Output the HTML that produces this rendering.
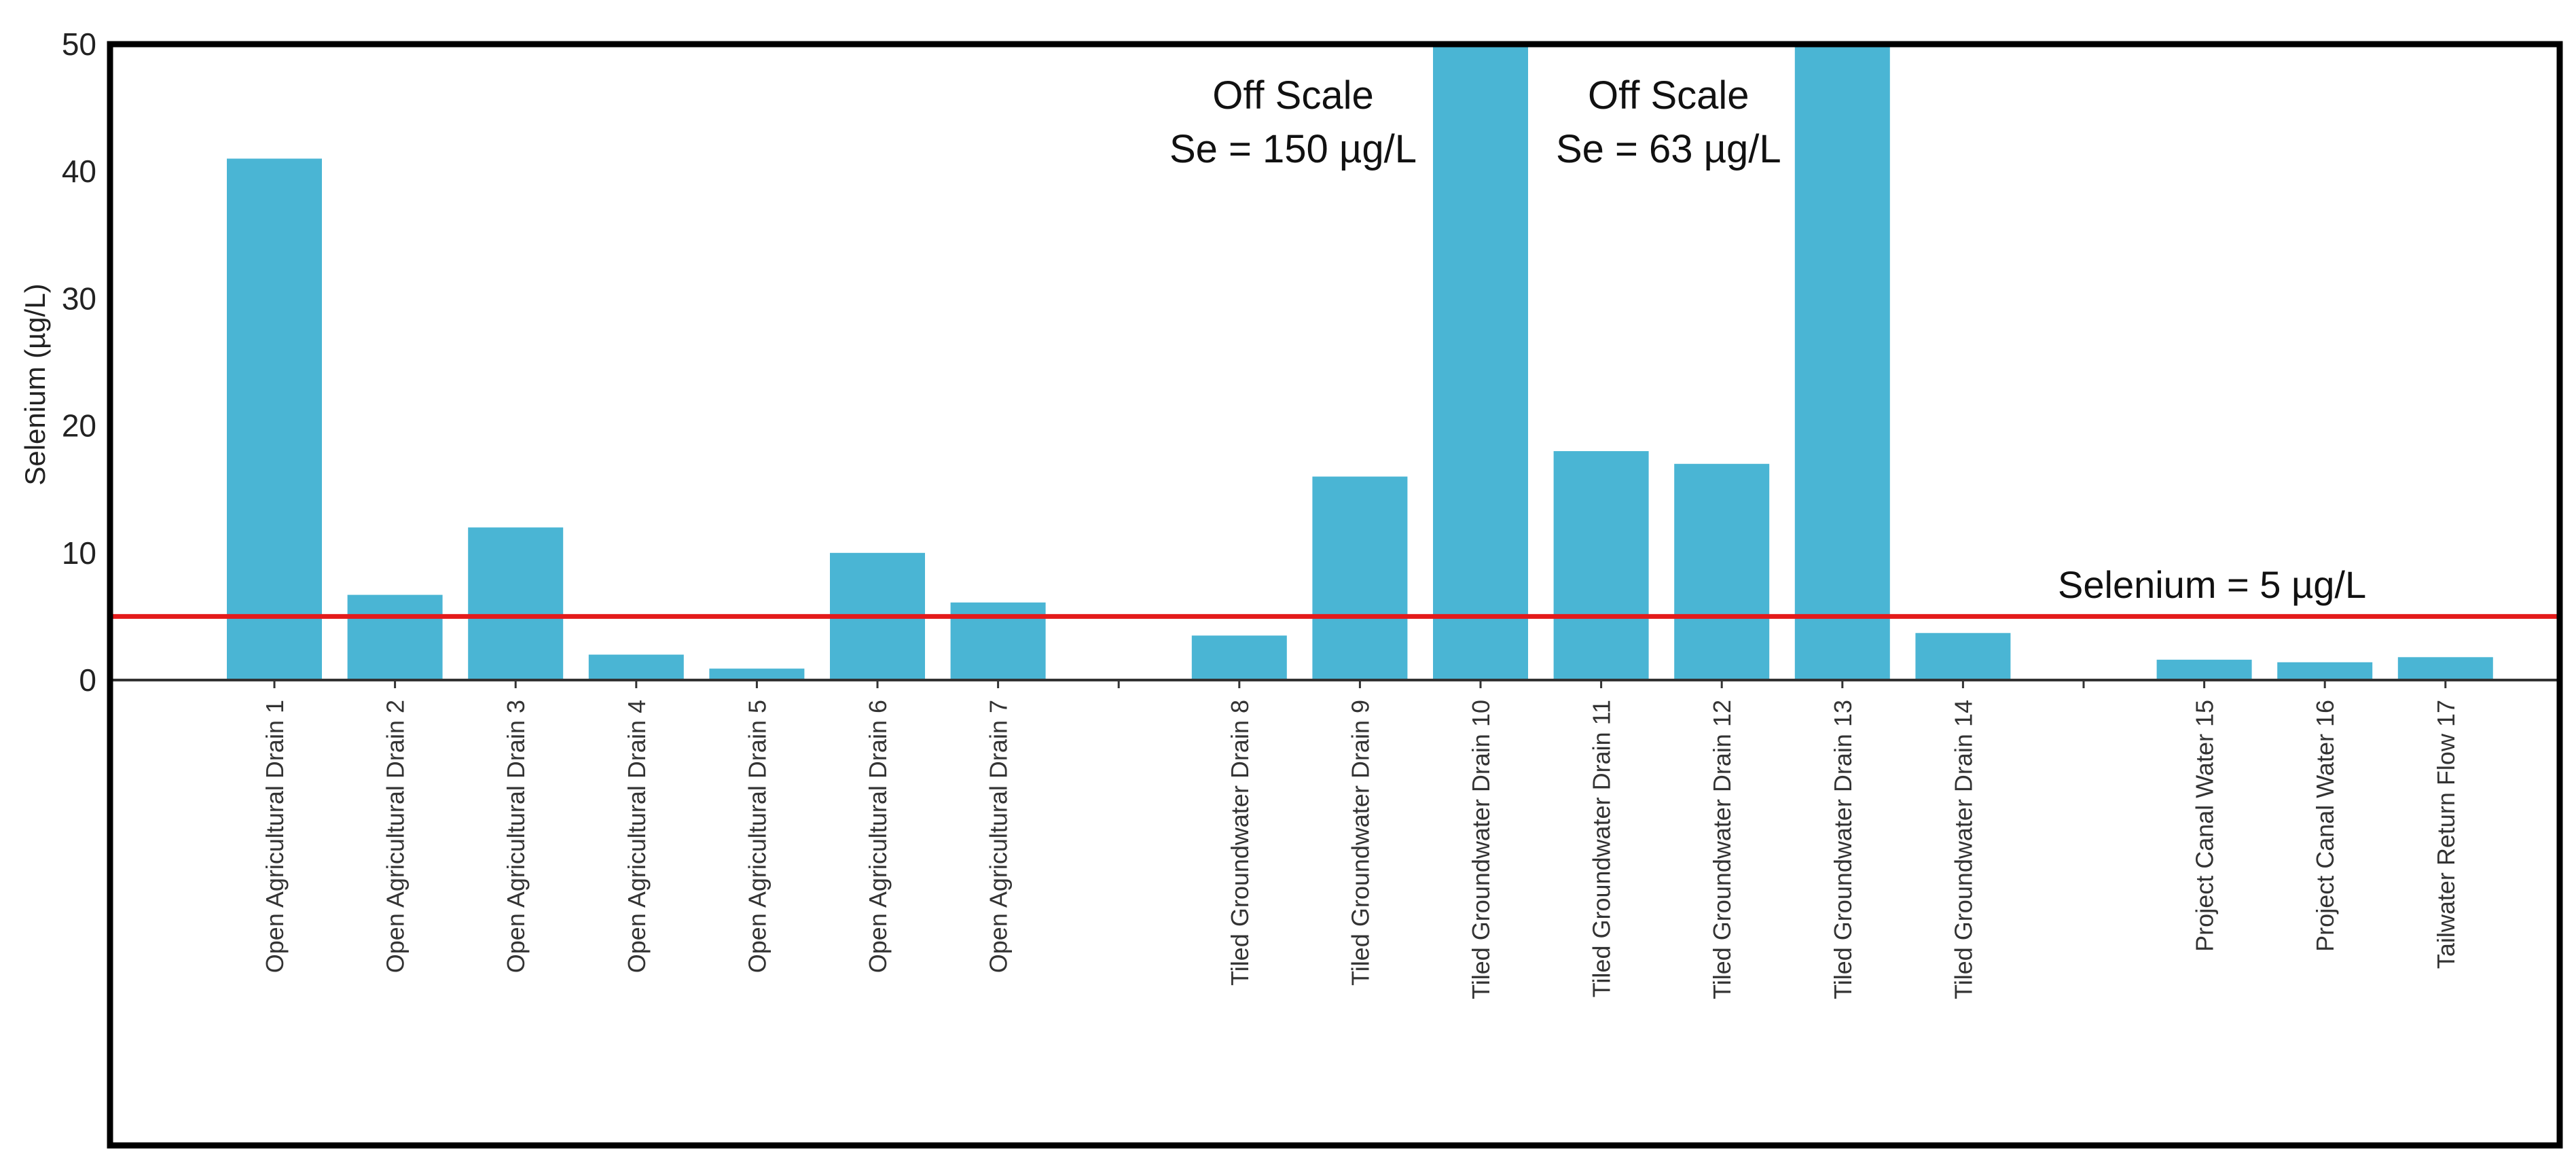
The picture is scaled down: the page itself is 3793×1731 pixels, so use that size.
<!DOCTYPE html>
<html><head><meta charset="utf-8"><style>
html,body{margin:0;padding:0;background:#fff;}
svg{display:block;font-family:"Liberation Sans",sans-serif;}
</style></head><body>
<svg id="chart" width="3793" height="1731" viewBox="0 0 3793 1731">
<g id="bars"></g>
<g id="axes"></g>
</svg>
<script>
const categories = ["Open Agricultural Drain 1","Open Agricultural Drain 2","Open Agricultural Drain 3","Open Agricultural Drain 4","Open Agricultural Drain 5","Open Agricultural Drain 6","Open Agricultural Drain 7","Tiled Groundwater Drain 8","Tiled Groundwater Drain 9","Tiled Groundwater Drain 10","Tiled Groundwater Drain 11","Tiled Groundwater Drain 12","Tiled Groundwater Drain 13","Tiled Groundwater Drain 14","Project Canal Water 15","Project Canal Water 16","Tailwater Return Flow 17"];
const slots = [0,1,2,3,4,5,6,8,9,10,11,12,13,14,16,17,18];
const values = [41,6.7,12,2,0.9,10,6.1,3.5,16,150,18,17,63,3.7,1.6,1.4,1.8];
const gapSlots = [7,15];
const yTicks = [0,10,20,30,40,50];
const threshold = 5;
const yMax = 50;

const NS="http://www.w3.org/2000/svg";
const svg=document.getElementById('chart');
const barsG=document.getElementById('bars');
const axesG=document.getElementById('axes');
const L=162,R=3769,T=65,B=1686;
const y0=1001, yTop=65;
const y=v=>y0-(Math.min(v,yMax)/yMax)*(y0-yTop);
const x=s=>404+s*177.6;
const bw=140;
function mk(tag,attrs,parent){const e=document.createElementNS(NS,tag);for(const k in attrs)e.setAttribute(k,attrs[k]);parent.appendChild(e);return e;}

values.forEach((v,i)=>{
  const r=mk('rect',{x:x(slots[i])-bw/2,y:y(v),width:bw,height:y0-y(v),fill:'#4ab5d4'},barsG);
  
  
  const t=mk('line',{x1:x(slots[i]),x2:x(slots[i]),y1:y0,y2:y0+12,stroke:'#333','stroke-width':3},axesG);
  
  
  const lb=mk('text',{x:0,y:0,transform:`translate(${x(slots[i])+13},1030) rotate(-90)`,'text-anchor':'end','font-size':36,fill:'#333'},axesG);
  lb.textContent=categories[i];
  
  
});
gapSlots.forEach(s=>{
  const t=mk('line',{x1:x(s),x2:x(s),y1:y0,y2:y0+12,stroke:'#333','stroke-width':3},axesG);
  
  
});
const zl=mk('line',{x1:L,x2:R,y1:y0,y2:y0,stroke:'#333','stroke-width':4},axesG);


yTicks.forEach(v=>{
  const t=mk('text',{x:142,y:y(v)+16,'text-anchor':'end','font-size':46,fill:'#222'},axesG);
  t.textContent=v;
  
  
});
const yt=mk('text',{x:0,y:0,transform:`translate(66,566) rotate(-90)`,'text-anchor':'middle','font-size':42,fill:'#222'},axesG);
yt.textContent='Selenium (µg/L)';


const rl=mk('line',{x1:L,x2:R,y1:y(threshold),y2:y(threshold),stroke:'#e41b1b','stroke-width':7},axesG);


const tl=mk('text',{x:3030,y:880,'font-size':56,fill:'#111'},axesG);
tl.textContent='Selenium = 5 µg/L';


[[9,'Se = 150 µg/L',-276],[12,'Se = 63 µg/L',-256]].forEach(([idx,txt,off])=>{
  const cx=x(slots[idx])+off;
  const a=mk('text',{x:cx,y:160,'text-anchor':'middle','font-size':58,fill:'#111'},axesG);
  a.textContent='Off Scale';
  
  
  const b=mk('text',{x:cx,y:239,'text-anchor':'middle','font-size':58,fill:'#111'},axesG);
  b.textContent=txt;
  
  
});
const fr=mk('rect',{x:L,y:T,width:R-L,height:B-T,fill:'none',stroke:'#000','stroke-width':9},axesG);


</script>
</body></html>
